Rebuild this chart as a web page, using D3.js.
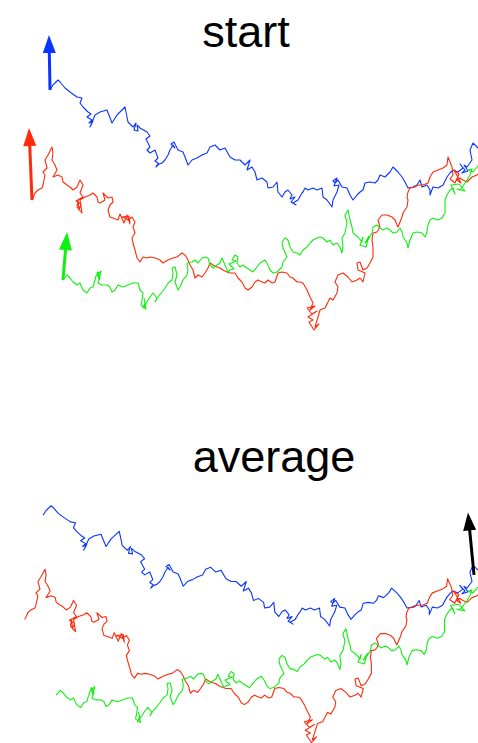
<!DOCTYPE html>
<html>
<head>
<meta charset="utf-8">
<script src="https://cdn.jsdelivr.net/npm/d3@7"></script>
<style>
  html, body { margin: 0; padding: 0; background: #fff; }
  svg { display: block; }
  text { font-family: "Liberation Sans", Arial, Helvetica, sans-serif; }
</style>
</head>
<body>
<script>
// Three random-walk tracks (x, y in walk units), drawn twice:
// once with their starting headings, once with the mean heading.
const blueWalk = [[5.0,31.0],[5.3,31.5],[5.8,32.0],[6.0,31.8],[6.5,31.2],[7.0,30.8],[7.7,30.3],[8.2,30.2],[8.0,29.7],[8.3,29.3],[8.8,28.8],[9.1,28.6],[8.7,28.3],[9.2,28.0],[8.9,27.7],[9.3,27.9],[9.0,27.3],[9.5,28.5],[10.0,28.8],[10.7,29.0],[11.2,27.7],[11.7,28.5],[12.2,29.0],[12.5,29.3],[12.8,27.8],[13.3,27.3],[13.6,27.7],[13.4,27.0],[13.8,26.9],[13.7,27.5],[14.0,27.2],[14.7,26.8],[15.0,26.4],[14.6,26.1],[14.8,25.7],[15.0,25.3],[14.7,25.0],
[15.0,24.7],[15.5,25.0],[15.8,24.2],[15.5,23.9],[15.9,23.6],[15.6,23.3],[15.7,23.5],[16.2,23.7],[16.5,24.0],[16.8,24.5],[17.0,25.0],[17.3,25.5],[17.5,25.2],[17.1,25.6],[17.4,25.8],[17.8,25.0],[18.3,24.8],[18.5,24.3],[18.8,23.5],[19.2,24.0],[19.7,24.2],[20.2,24.5],[20.7,24.7],[21.0,25.3],[21.5,25.5],[22.0,25.0],[22.5,25.2],[23.0,24.3],[23.5,24.0],[24.0,24.0],[24.5,23.5],[25.0,24.0],[24.7,23.0],[25.2,23.3],[25.5,22.8],[25.7,22.0],[26.2,22.2],[26.7,21.8],[26.8,21.2],[27.3,21.3],[27.7,21.8],[27.8,20.8],[28.2,20.3],[28.5,20.8],[28.8,21.0],[29.2,20.5],[29.0,20.1],[29.5,20.3],[29.1,19.8],[29.6,19.5],[29.3,19.7],[29.8,20.0],[30.2,20.7],[30.3,20.8],[30.5,21.2],[30.8,21.0],[31.3,21.2],
[31.7,21.0],[32.2,21.2],[32.3,20.3],[32.7,20.0],[33.2,19.3],[33.3,20.0],[33.7,20.8],[33.9,21.5],[33.4,21.4],[33.7,22.2],[33.3,21.9],[33.5,21.7],[33.8,22.0],[34.2,21.3],[34.7,21.2],[35.0,20.5],[35.3,20.0],[35.7,20.5],[36.0,20.8],[36.3,21.0],[36.5,21.7],[37.0,21.8],[37.5,21.7],[37.8,22.0],[38.0,22.5],[38.5,22.3],[39.0,22.8],[39.3,23.3],[39.8,22.8],[40.2,22.3],[40.5,21.8],[40.8,21.2],[41.3,21.3],[41.7,21.5],[42.0,22.0],[42.2,21.3],[42.7,21.5],[43.0,21.0],[43.0,20.5],[43.3,21.3],[43.8,21.2],[44.3,21.5],[44.7,22.3],[45.0,22.7],[45.3,23.0],[45.8,22.8],[46.3,23.2],[46.0,23.6],[46.5,23.0],[46.2,22.7],[46.8,22.9],[46.4,23.5],[46.7,23.3],[47.2,24.0],[47.0,25.0],[47.3,25.7],[47.7,25.3],[48.0,25.0]];

const redWalk = [[3.2,20.0],[3.3,20.2],[3.5,20.7],[3.8,21.0],[4.2,21.2],[4.3,21.5],[4.5,22.5],[4.3,22.8],[4.7,23.2],[4.5,24.0],[4.8,24.5],[5.2,25.3],[5.3,24.7],[5.2,24.0],[5.5,23.5],[5.7,23.0],[5.3,22.3],[5.8,22.5],[6.2,22.3],[6.3,21.8],[6.7,21.5],[7.0,21.3],[7.3,21.0],[7.7,21.3],[8.0,22.0],[8.3,21.5],[8.0,20.7],[8.3,20.3],[7.6,19.9],[8.1,19.6],[7.9,19.0],[7.8,20.0],[7.7,19.3],[8.2,18.7],[8.0,20.0],[8.5,20.3],[9.0,20.5],[9.3,20.7],[9.7,20.3],[9.8,19.8],[10.0,19.7],[10.5,20.0],[10.3,20.7],[10.8,20.2],[11.2,20.3],[11.3,19.8],[11.0,19.5],[10.8,19.0],[11.0,18.3],[11.3,18.2],[11.8,18.0],[12.0,18.6],[12.4,17.7],[12.7,18.5],[13.0,17.6],[12.9,18.4],[12.2,18.3],[12.5,18.2],[12.8,18.0],[13.2,18.3],[13.5,17.8],[13.3,17.3],[13.5,16.7],[13.2,16.2],[13.3,15.7],[13.5,15.0],[13.7,14.2],[14.0,13.8],[14.3,14.3],[14.7,14.2],[15.0,14.3],
[15.5,14.2],[16.0,14.0],[16.3,13.7],[16.8,14.0],[17.3,14.2],[17.7,14.3],[18.2,14.7],[18.5,14.5],[18.8,14.0],[19.0,13.5],[19.3,13.0],[19.5,12.2],[19.8,12.5],[20.2,12.3],[20.5,12.7],[20.8,13.2],[21.0,13.7],[21.3,13.5],[21.7,13.3],[22.0,13.2],[22.3,13.0],[22.7,12.8],[23.0,12.7],[23.5,12.7],[23.8,12.2],[24.2,11.8],[24.5,11.2],[24.8,11.0],[25.2,11.3],[25.5,11.8],[25.8,12.0],[26.2,11.8],[26.5,11.7],[26.8,12.0],[27.2,11.7],[27.5,11.8],[27.8,12.7],[28.2,12.8],[28.7,12.7],[29.0,12.3],[29.3,12.2],[29.7,11.8],[30.0,11.8],[30.3,11.7],[30.7,11.0],[31.0,10.3],[31.3,9.7],[31.0,9.0],[31.5,9.4],[30.7,9.2],[31.2,8.6],[31.7,8.9],[30.8,8.3],[31.3,8.0],[30.9,7.8],[31.4,7.0],[31.9,7.6],[31.5,7.3],
[31.8,8.3],[32.0,9.0],[32.5,9.2],[32.8,9.8],[33.0,10.2],[33.3,10.0],[33.7,10.7],[33.8,11.3],[33.5,11.8],[33.8,12.5],[34.3,12.7],[34.8,12.3],[35.2,11.8],[35.7,12.0],[36.0,12.2],[36.3,11.8],[36.5,12.7],[35.8,13.0],[35.7,13.7],[36.0,13.8],[36.3,13.0],[36.7,13.2],[37.0,13.7],[37.3,14.3],[37.3,15.3],[37.2,16.0],[37.3,16.7],[37.7,16.8],[38.0,17.3],[37.8,18.0],[38.2,18.5],[38.7,18.5],[39.2,18.3],[39.5,18.0],[39.7,17.5],[39.8,17.3],[40.0,17.8],[40.2,18.3],[40.3,18.7],[40.5,19.0],[40.7,19.3],[40.8,20.0],[40.7,20.3],[40.8,20.8],[41.0,21.2],[41.5,21.3],[41.8,21.5],[42.3,21.5],[42.8,21.7],[43.0,22.3],[43.3,22.8],[43.8,23.0],[44.3,23.2],[44.7,23.5],[44.8,24.3],[45.0,23.8],[45.2,23.3],[45.3,22.5],[45.0,22.1],[45.5,21.7],[45.9,22.6],[45.4,23.0],[46.1,21.7],[45.7,22.0],[46.0,22.2],[46.3,22.0],[46.7,21.8],[47.2,22.3],[47.7,22.5],[48.0,22.8]];

const greenWalk = [[6.3,12.0],[6.7,12.5],[7.0,12.2],[7.3,11.8],[7.7,11.5],[8.0,11.7],[8.3,11.0],[8.7,10.7],[9.0,11.2],[9.3,11.3],[9.5,12.0],[9.6,12.4],[10.1,12.9],[9.9,12.1],[9.7,12.7],[9.8,12.8],[10.0,12.2],[9.8,11.7],[10.2,11.5],[10.7,11.5],[11.0,11.3],[11.2,10.8],[11.5,11.0],[11.8,11.5],[12.3,11.3],[12.8,11.5],[13.3,11.7],[13.8,11.7],[14.0,11.0],[14.3,10.7],[14.2,10.0],[14.1,9.5],[14.6,9.1],[14.4,10.2],[14.5,9.7],[14.3,9.2],[14.7,9.8],[15.0,10.3],
[15.3,10.7],[15.7,10.2],[15.5,9.8],[15.8,10.3],[16.2,10.8],[16.5,11.2],[16.8,11.7],[17.2,12.0],[17.3,12.7],[17.2,13.2],[17.5,13.3],[17.7,12.5],[17.5,11.8],[17.8,11.0],[18.0,11.3],[18.3,12.0],[18.7,12.5],[18.8,13.0],[18.7,13.7],[19.2,13.8],[19.5,14.0],[19.8,13.7],[20.2,14.2],[20.5,14.3],[20.8,14.2],[21.0,13.5],[21.3,13.2],[21.7,13.5],[22.0,13.7],[22.2,14.2],[22.5,13.5],[22.8,12.8],[23.0,13.0],[23.4,13.1],[22.9,13.6],[23.6,13.9],[23.2,14.0],[23.5,14.5],[23.8,14.3],[23.7,13.7],[24.0,13.3],[24.3,13.5],[24.7,13.2],[25.0,13.0],[25.3,12.8],[25.7,13.3],[26.0,13.7],[26.5,14.0],[26.8,13.5],[27.0,13.0],[27.3,12.7],[27.7,12.8],[28.2,13.3],[28.3,13.8],[28.7,14.3],[28.3,15.2],[28.2,15.8],[28.5,16.2],[28.8,16.0],[29.0,15.3],[29.3,14.8],[29.7,14.7],[30.0,14.5],[30.3,15.0],[30.7,15.3],[31.0,15.7],[31.3,16.0],[31.7,16.2],[32.0,16.3],
[32.3,16.2],[32.7,15.8],[33.0,16.0],[33.3,15.5],[33.7,15.7],[34.0,15.3],[34.2,14.7],[34.3,15.3],[34.2,16.2],[34.5,16.7],[34.7,17.7],[34.5,18.5],[34.8,19.0],[35.0,18.0],[35.2,17.3],[35.3,16.7],[35.8,16.3],[36.2,15.8],[36.3,16.3],[36.0,15.5],[36.6,15.3],[36.9,16.4],[36.5,15.7],[36.8,16.0],[37.2,16.7],[37.3,17.3],[37.7,17.5],[38.0,17.2],[38.3,17.0],[38.7,17.2],[39.0,17.0],[39.3,16.7],[39.7,16.8],[40.0,17.2],[40.2,16.8],[40.3,16.3],[40.7,15.7],[40.8,15.2],[41.0,16.0],[41.3,16.7],[41.7,16.8],[42.2,16.7],[42.5,16.3],[42.7,16.8],[42.8,17.5],[43.0,18.0],[43.3,18.2],[43.8,18.0],[44.2,18.2],[44.5,18.7],[44.5,20.0],[44.7,20.5],[45.0,21.0],[45.3,21.2],[45.5,20.6],[45.1,21.5],[45.9,21.6],[46.5,20.9],[45.7,21.1],[46.0,21.0],[46.3,21.4],[46.7,22.0],[47.0,22.5],[47.2,23.1],[46.8,23.0],[47.3,22.8],[47.7,23.3],[48.0,23.6]];

const walkNames  = ["blue", "red", "green"];
const walkColors = ["#0a35ff", "#ff2a0a", "#10f010"];
// initial heading of each walker, as a displacement vector [dx, dy]
const startHeadings = [[-0.1, 5.5], [-0.3, 7.2], [0.4, 4.8]];
// mean heading, drawn from the common end point [x, y]
const meanBase = [47.4, 24.7];
const meanHeading = [-0.6, 6.6];
const panelTitles = ["start", "average"];

const walks = [blueWalk, redWalk, greenWalk];

const W = 478, H = 743;
const svg = d3.select("body").append("svg").attr("width", W).attr("height", H);

// each panel has its own frame
const panels = [
  { title: panelTitles[0], titleX: 246, titleY: 47,
    x: d3.scaleLinear().domain([0, 47.8]).range([0, 478]),
    y: d3.scaleLinear().domain([0, 40]).range([400, 0]) },
  { title: panelTitles[1], titleX: 274, titleY: 472,
    x: d3.scaleLinear().domain([0, 47.8]).range([-7.8, 478.1]),
    y: d3.scaleLinear().domain([0, 40]).range([808.8, 430]) }
];

function arrow(g, x, y, base, vec, color) {
  const x0 = x(base[0]), y0 = y(base[1]);
  const x1 = x(base[0] + vec[0]), y1 = y(base[1] + vec[1]);
  const len = Math.hypot(x1 - x0, y1 - y0);
  const ux = (x1 - x0) / len, uy = (y1 - y0) / len;
  const headL = 18, headW = 6.5;
  const bx = x1 - ux * headL, by = y1 - uy * headL;
  g.append("line")
    .attr("x1", x0).attr("y1", y0).attr("x2", bx + ux * 2).attr("y2", by + uy * 2)
    .attr("stroke", color).attr("stroke-width", 3);
  g.append("path")
    .attr("d", `M${x1},${y1}L${bx - uy * headW},${by + ux * headW}L${bx + uy * headW},${by - ux * headW}Z`)
    .attr("fill", color);
}

panels.forEach((p, i) => {
  const g = svg.append("g");
  g.append("text")
    .attr("x", p.titleX).attr("y", p.titleY)
    .attr("text-anchor", "middle")
    .attr("font-size", 45)
    .attr("fill", "#000")
    .text(p.title);

  const line = d3.line().x(d => p.x(d[0])).y(d => p.y(d[1]));
  walks.forEach((w, k) => {
    g.append("path")
      .datum(w)
      .attr("class", "walk " + walkNames[k])
      .attr("d", line)
      .attr("fill", "none")
      .attr("stroke", walkColors[k])
      .attr("stroke-width", 1.1)
      .attr("stroke-linejoin", "round");
  });

  if (i === 0) {
    walks.forEach((w, k) => arrow(g, p.x, p.y, w[0], startHeadings[k], walkColors[k]));
  } else {
    arrow(g, p.x, p.y, meanBase, meanHeading, "#000");
  }
});
</script>
</body>
</html>
